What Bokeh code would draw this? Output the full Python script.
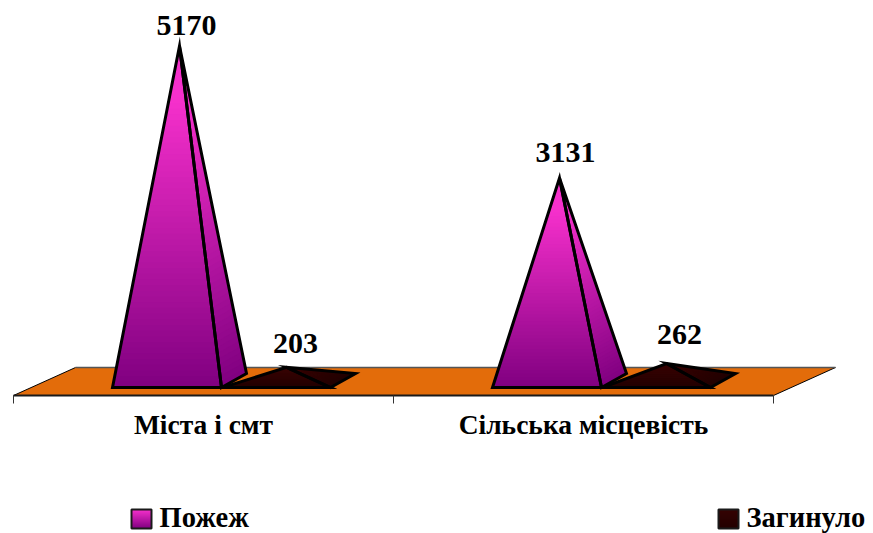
from bokeh.plotting import figure
from bokeh.models import Range1d, LinearAxis, FixedTicker
from bokeh.core.properties import value
from bokeh.embed import file_html
from bokeh.resources import INLINE

categories = ["Міста і смт", "Сільська місцевість"]
series_names = ["Пожеж", "Загинуло"]
pozhezh = [5170, 3131]
zahynulo = [203, 262]
tick_positions = [0, 1, 2]
label_positions = [0.5, 1.5]

FONT = "Liberation Serif"
PX_CAT = 380.0      # pixels per category
PX_VAL = 0.0647     # pixels per value unit
X0_PX, Y0_PX = 13.0, 380.0   # image pixel of data origin


def dx(px):
    return px / PX_CAT


def dy(px):
    return px / PX_VAL


def X(img):
    return (img - X0_PX) / PX_CAT


def Y(img):
    return (Y0_PX - img) / PX_VAL


def lerp(a, b, t):
    return a + (b - a) * t


def hexcol(c):
    return "#%02x%02x%02x" % tuple(int(round(v)) for v in c)


p = figure(width=873, height=533, output_backend="svg", toolbar_location=None,
           x_range=Range1d(X(0), X(873)), y_range=Range1d(Y(533), Y(0)),
           x_axis_type=None, y_axis_type=None, min_border=0,
           outline_line_color=None)
p.grid.visible = False

# Floor
floor_front, floor_back = dy(-15), dy(13)
depth_shift = dx(62)
p.patch([0, 2, 2 + depth_shift, depth_shift],
        [floor_front, floor_front, floor_back, floor_back],
        fill_color="#e36c0a", line_color=None)
p.line([0, depth_shift], [floor_front, floor_back], line_color="#000000", line_width=1)
p.line([2, 2 + depth_shift], [floor_front, floor_back], line_color="#000000", line_width=1)
p.line([depth_shift, 2 + depth_shift], [floor_back, floor_back],
       line_color="#555555", line_width=1.5)

# Axis with tick marks
axis = LinearAxis(fixed_location=floor_front, bounds=(0, 2),
                  ticker=FixedTicker(ticks=tick_positions))
axis.axis_line_color = "#1a1a1a"
axis.axis_line_width = 2
axis.major_tick_line_color = "#333333"
axis.major_tick_in = 0
axis.major_tick_out = 8
axis.minor_tick_line_color = None
axis.major_label_text_font_size = "0px"
axis.major_label_text_color = None
p.add_layout(axis, "below")

# Axis with category labels
lab_axis = LinearAxis(fixed_location=floor_front,
                      ticker=FixedTicker(ticks=label_positions))
lab_axis.axis_line_color = None
lab_axis.major_tick_line_color = None
lab_axis.minor_tick_line_color = None
lab_axis.major_label_overrides = {pos: cat for pos, cat in zip(label_positions, categories)}
lab_axis.major_label_text_font = FONT
lab_axis.major_label_text_font_style = "bold"
lab_axis.major_label_text_font_size = "27.5px"
lab_axis.major_label_text_color = "#000000"
lab_axis.major_label_standoff = 7
p.add_layout(lab_axis, "below")

PINK_TOP, PINK_BOT = (246, 48, 204), (128, 0, 128)
DARK_TOP, DARK_BOT = (54, 3, 3), (34, 0, 0)
N = 60
base_front = dy(-7)
back_dx, back_dy = dx(25), dy(14)


def pyramid(cat, left_px, width_px, apex_px, val, top, bot):
    x0 = cat + dx(left_px)
    x1 = x0 + dx(width_px)
    x2 = x1 + back_dx
    ax = x0 + dx(apex_px)
    ay = val
    y0 = base_front
    y2 = base_front + back_dy
    xs, ys, cols = [], [], []
    for a, b, ya, yb in ((x1, x2, y0, y2), (x0, x1, y0, y0)):
        for k in range(N):
            # every shade reaches up to the apex; the next one paints over it
            t = k / N
            xs.append([lerp(a, ax, t), lerp(b, ax, t), ax])
            ys.append([lerp(ya, ay, t), lerp(yb, ay, t), ay])
            f = min(1.0, (k + 0.5) / N / 0.85)
            cols.append(hexcol([lerp(bot[c], top[c], f) for c in range(3)]))
    p.patches(xs, ys, fill_color=cols, line_color=None)
    # outlines
    p.patch([x1, x2, ax], [y0, y2, ay], fill_color=None, line_color="#000000",
            line_width=3, line_join="miter")
    p.patch([x0, x1, ax], [y0, y0, ay], fill_color=None, line_color="#000000",
            line_width=3, line_join="miter")


for i in range(len(categories)):
    pyramid(i, 99, 109, 67, pozhezh[i], PINK_TOP, PINK_BOT)
    pyramid(i, 209, 108, 64, zahynulo[i], DARK_TOP, DARK_BOT)

# Data labels: vertical offset of each label's middle above its apex
label_dx = [7, 9, 6, 13]
label_dy = [21, 24, 25, 29]
lab_vals = [pozhezh[0], zahynulo[0], pozhezh[1], zahynulo[1]]
lab_apex = [99 + 67, 209 + 64, 99 + 67, 209 + 64]
lab_cat = [0, 0, 1, 1]
p.text([c + dx(a + d) for c, a, d in zip(lab_cat, lab_apex, label_dx)],
       [v + dy(d) for v, d in zip(lab_vals, label_dy)],
       text=[str(v) for v in lab_vals],
       text_font=value(FONT), text_font_style="bold", text_font_size="30px",
       text_align="center", text_baseline="middle", text_color="#000000")

# Legend
legend_left = [131, 718]
legend_cols = [(PINK_TOP, PINK_BOT), (DARK_TOP, DARK_BOT)]
swatch_w, swatch_top, swatch_bot = 20, 509, 528
for left, name, (top, bot) in zip(legend_left, series_names, legend_cols):
    M = 19
    xs, ys, cols = [], [], []
    for k in range(M):
        ya = lerp(Y(swatch_bot), Y(swatch_top), k / M)
        xs.append([X(left), X(left + swatch_w), X(left + swatch_w), X(left)])
        ys.append([ya, ya, Y(swatch_top), Y(swatch_top)])
        cols.append(hexcol([lerp(bot[c], top[c], (k + .5) / M) for c in range(3)]))
    p.patches(xs, ys, fill_color=cols, line_color=None)
    p.patch([X(left), X(left + swatch_w), X(left + swatch_w), X(left)],
            [Y(swatch_bot), Y(swatch_bot), Y(swatch_top), Y(swatch_top)],
            fill_color=None, line_color="#1a1a1a", line_width=2)
    p.text([X(left + swatch_w + 8)], [Y(517)], text=[name],
           text_font=value(FONT), text_font_style="bold", text_font_size="28.5px",
           text_align="left", text_baseline="middle", text_color="#000000")

open("out.html", "w").write(file_html(p, INLINE))
